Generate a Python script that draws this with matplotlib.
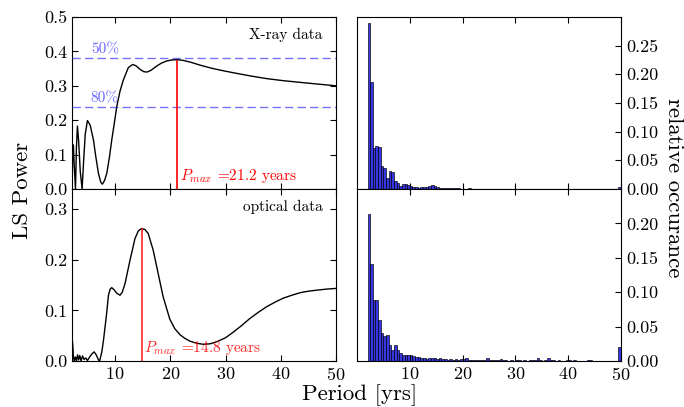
import numpy as np
import matplotlib
matplotlib.use("Agg")
import matplotlib.pyplot as plt

plt.rcParams['font.family'] = 'serif'
plt.rcParams['font.serif'] = ['cmr10']
plt.rcParams['mathtext.fontset'] = 'cm'
plt.rcParams['axes.formatter.use_mathtext'] = True
plt.rcParams['axes.unicode_minus'] = False

# LS periodogram, X-ray data (period in yrs, power)
xray_period = [2.2, 2.3, 2.45, 2.6, 2.83, 3.0, 3.18, 3.4, 3.7, 4.03, 4.3, 4.6, 5.0, 5.5,
               6.08, 6.5, 6.98, 7.4, 7.7, 8.1, 8.5, 9.0, 9.4, 9.85, 10.3, 10.9, 11.5,
               12.4, 13.2, 13.8, 14.5, 15.2, 15.8, 16.5, 17.5, 18.4, 19.3, 20.2, 21.2,
               22.3, 23.8, 25.4, 27.5, 29.5, 31.4, 34.4, 37.4, 40.4, 43.5, 46.7, 50.0]
xray_power = [0.0, 0.08, 0.128, 0.07, 0.0, 0.12, 0.183, 0.14, 0.05, 0.0, 0.08, 0.16, 0.199, 0.185,
              0.143, 0.095, 0.046, 0.02, 0.014, 0.025, 0.046, 0.095, 0.143, 0.19, 0.239, 0.285, 0.317,
              0.353, 0.362, 0.358, 0.348, 0.341, 0.340, 0.345, 0.357, 0.366, 0.372, 0.375, 0.376,
              0.374, 0.368, 0.360, 0.351, 0.344, 0.338, 0.329, 0.321, 0.315, 0.310, 0.305, 0.300]

# LS periodogram, optical data
opt_period = [2.2, 2.3, 2.45, 2.6, 2.8, 3.0, 3.2, 3.4, 3.6, 3.85, 4.1, 4.4, 4.7, 5.0, 5.4,
              5.8, 6.2, 6.6, 7.0, 7.2, 7.6, 7.9, 8.4, 8.8, 9.1, 9.4, 9.8, 10.3, 10.9, 11.3,
              11.8, 12.7, 13.6, 14.2, 14.8, 15.4, 16.0, 16.9, 17.8, 18.7, 19.9, 20.8, 21.75,
              22.6, 23.6, 24.8, 26.0, 27.2, 28.4, 30.0, 31.4, 32.9, 34.4, 35.9, 37.4, 38.9,
              40.4, 42.0, 43.5, 45.0, 46.5, 48.2, 50.0]
opt_power = [0.04, 0.038, 0.01, 0.0, 0.008, 0.0, 0.012, 0.002, 0.011, 0.0, 0.01, 0.003, 0.006, 0.001, 0.008,
             0.014, 0.018, 0.012, 0.002, 0.0, 0.018, 0.041, 0.087, 0.130, 0.142, 0.145, 0.141, 0.134, 0.130, 0.136,
             0.153, 0.199, 0.242, 0.257, 0.262, 0.260, 0.252, 0.219, 0.173, 0.127, 0.083, 0.064, 0.052,
             0.045, 0.039, 0.035, 0.033, 0.034, 0.038, 0.046, 0.057, 0.070, 0.084, 0.096, 0.107, 0.116,
             0.124, 0.130, 0.135, 0.138, 0.140, 0.142, 0.1435]

xray_pmax = 21.2
opt_pmax = 14.8
level_50 = 0.381
level_80 = 0.238

# histogram of max periods (bins of 0.5 yr from 2 to 50)
bin_edges = np.arange(2.0, 50.01, 0.5)
xray_hist = [0.289, 0.187, 0.072, 0.075, 0.074, 0.040, 0.036, 0.019, 0.031, 0.030,
             0.014, 0.011, 0.006, 0.008, 0.009, 0.007, 0.005, 0.004, 0.003, 0.002,
             0.003, 0.004, 0.004, 0.005, 0.007, 0.005, 0.003, 0.002, 0.001, 0.001,
             0.001, 0.001, 0.001, 0.001, 0.001, 0.0005, 0.0005, 0.0005, 0.001, 0.0,
             0.0, 0.0, 0.0005, 0.0, 0.0, 0.0, 0.0005, 0.0, 0.0, 0.0,
             0.0, 0.0, 0.0, 0.0, 0.0, 0.0, 0.0, 0.0, 0.0, 0.0,
             0.0, 0.0, 0.0, 0.0, 0.0, 0.0, 0.0, 0.0, 0.0, 0.0,
             0.0, 0.0, 0.0, 0.0, 0.0, 0.0, 0.0, 0.0, 0.0, 0.0,
             0.0, 0.0, 0.0, 0.0, 0.0, 0.0, 0.0, 0.0, 0.0, 0.0,
             0.0, 0.0, 0.0, 0.0, 0.0, 0.004]
opt_hist = [0.213, 0.141, 0.089, 0.089, 0.060, 0.041, 0.036, 0.038, 0.023, 0.016,
            0.023, 0.016, 0.011, 0.009, 0.008, 0.009, 0.009, 0.007, 0.006, 0.006,
            0.004, 0.004, 0.003, 0.004, 0.004, 0.004, 0.003, 0.004, 0.003, 0.003,
            0.002, 0.003, 0.002, 0.003, 0.002, 0.003, 0.003, 0.004, 0.001, 0.002,
            0.001, 0.002, 0.001, 0.001, 0.001, 0.004, 0.001, 0.001, 0.001, 0.001,
            0.003, 0.001, 0.001, 0.0, 0.001, 0.0, 0.001, 0.001, 0.0, 0.001,
            0.0, 0.001, 0.001, 0.002, 0.004, 0.001, 0.0, 0.001, 0.004, 0.002,
            0.001, 0.0, 0.001, 0.0, 0.0, 0.001, 0.002, 0.0, 0.002, 0.0,
            0.0, 0.0, 0.0, 0.001, 0.001, 0.0, 0.0, 0.0, 0.0, 0.0,
            0.0, 0.0, 0.0, 0.0, 0.0, 0.021]

fig = plt.figure(figsize=(6.84, 4.07), dpi=100)
W, H = 684.0, 407.0
def box(x0, x1, y0, y1):
    return [x0 / W, 1 - y1 / H, (x1 - x0) / W, (y1 - y0) / H]

ax1 = fig.add_axes(box(72, 336, 17, 189))
ax2 = fig.add_axes(box(72, 336, 189, 361))
ax3 = fig.add_axes(box(357, 621, 17, 189))
ax4 = fig.add_axes(box(357, 621, 189, 361))

for ax in (ax1, ax2, ax3, ax4):
    ax.tick_params(direction='in', length=4, labelsize=13, top=True)
    ax.set_xticks([10, 20, 30, 40, 50])

# left panels
for ax in (ax1, ax2):
    ax.tick_params(right=True)
    ax.set_xlim(2.2, 50)

ax1.plot(xray_period, xray_power, 'k-', lw=1)
ax1.axhline(level_50, color='b', ls='--', lw=1, alpha=0.55, dashes=(6, 3))
ax1.axhline(level_80, color='b', ls='--', lw=1, alpha=0.55, dashes=(6, 3))
ax1.text(5.6, level_50 + 0.004, '50%', color='b', alpha=0.6, fontsize=11, va='bottom')
ax1.text(5.6, level_80 + 0.004, '80%', color='b', alpha=0.6, fontsize=11, va='bottom')
ax1.vlines(xray_pmax, 0, max(xray_power), color='r', lw=1.2)
ax1.text(xray_pmax + 0.5, 0.012, r'$P_{max}$ =' + str(xray_pmax) + ' years',
         color='r', fontsize=11, va='bottom')
ax1.text(0.95, 0.935, 'X-ray data', transform=ax1.transAxes, ha='right', va='top', fontsize=11)
ax1.set_ylim(0, 0.5)
ax1.set_yticks([0.0, 0.1, 0.2, 0.3, 0.4, 0.5])
ax1.set_yticklabels(['0.0', '0.1', '0.2', '0.3', '0.4', '0.5'])
ax1.tick_params(labelbottom=False)

ax2.plot(opt_period, opt_power, 'k-', lw=1)
ax2.vlines(opt_pmax, 0, max(opt_power), color='r', lw=1.2, alpha=0.85)
ax2.text(opt_pmax + 0.4, 0.008, r'$P_{max}$ =' + str(opt_pmax) + ' years',
         color='r', alpha=0.85, fontsize=11, va='bottom')
ax2.text(0.95, 0.935, 'optical data', transform=ax2.transAxes, ha='right', va='top', fontsize=11)
ax2.set_ylim(0, 0.34)
ax2.set_yticks([0.0, 0.1, 0.2, 0.3])
ax2.set_yticklabels(['0.0', '0.1', '0.2', '0.3'])

# right panels: histograms
for ax, vals, top, ticks in ((ax3, xray_hist, 0.30, [0, 0.05, 0.10, 0.15, 0.20, 0.25]),
                             (ax4, opt_hist, 0.25, [0, 0.05, 0.10, 0.15, 0.20])):
    ax.bar(bin_edges[:-1], vals, width=0.5, align='edge', color='#2020e0', alpha=0.9,
           edgecolor='k', linewidth=0.5)
    ax.set_xlim(0, 50)
    ax.set_ylim(0, top)
    ax.yaxis.tick_right()
    ax.tick_params(direction='in', length=4, labelsize=13, top=True, left=False)
    ax.set_yticks(ticks)
    ax.set_yticklabels(['%.2f' % t for t in ticks])
ax3.tick_params(labelbottom=False)

fig.text(0.032, 0.533, 'LS Power', rotation=90, ha='center', va='center', fontsize=16.5)
fig.text(0.526, 0.028, 'Period [yrs]', ha='center', va='center', fontsize=16.5)
fig.text(0.985, 0.54, 'relative occurance', rotation=-90, ha='center', va='center', fontsize=16.5)

fig.savefig('out.png', dpi=100)
